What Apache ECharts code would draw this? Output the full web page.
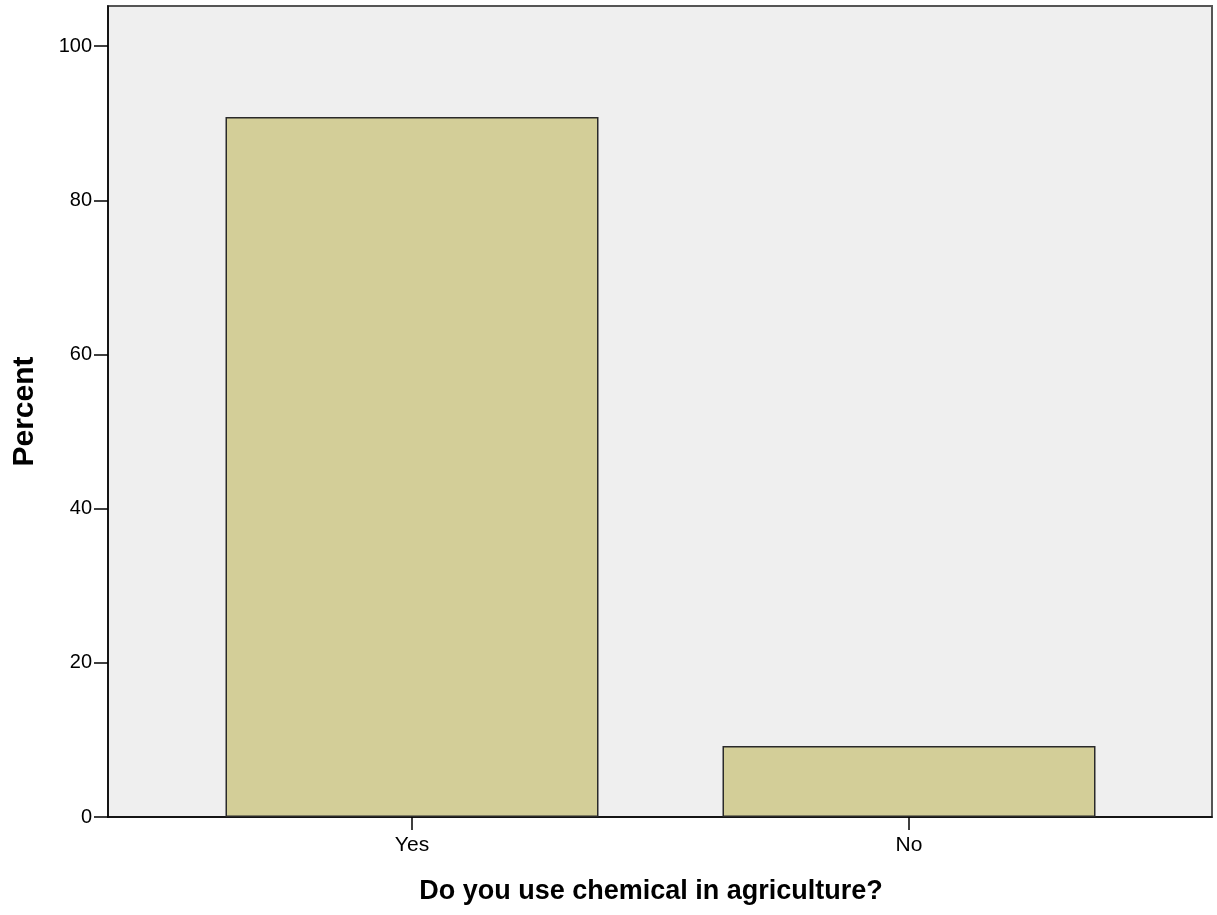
<!DOCTYPE html>
<html>
<head>
<meta charset="utf-8">
<script src="https://cdn.jsdelivr.net/npm/echarts@6/dist/echarts.min.js"></script>
<style>html,body{margin:0;padding:0;background:#fff}#c{width:1217px;height:915px}</style>
</head>
<body>
<div id="c"></div>
<script>
const categories = ['Yes', 'No'];
const percentValues = [90.8, 9.2];
const yTicks = [0, 20, 40, 60, 80, 100];

const chart = echarts.init(document.getElementById('c'), null, {renderer: 'canvas'});
const font = 'Liberation Sans, Arial, sans-serif';
chart.setOption({
  animation: false,
  backgroundColor: '#ffffff',
  grid: [
    {left: 108, right: 5, top: 6, bottom: 98, show: true, backgroundColor: '#efefef', borderColor: '#555555', borderWidth: 2},
    {left: 163.5, right: 59.5, top: 6, bottom: 98}
  ],
  title: {
    text: 'Do you use chemical in agriculture?',
    left: 646, top: 873, textAlign: 'center',
    textStyle: {fontFamily: font, fontSize: 27, fontWeight: 'bold', color: '#000'}
  },
  xAxis: [
    {gridIndex: 0, type: 'value', min: 0, max: 1, axisLabel: {show: false}, axisTick: {show: false}, splitLine: {show: false},
     axisLine: {show: true, onZero: false, lineStyle: {color: '#000', width: 1.5}}},
    {gridIndex: 1, type: 'category', data: categories, boundaryGap: true,
     axisLine: {show: false},
     axisTick: {show: true, alignWithLabel: true, length: 13, lineStyle: {color: '#000', width: 1.5}},
     axisLabel: {color: '#000', fontFamily: font, fontSize: 21, margin: 18}}
  ],
  yAxis: [
    {gridIndex: 0, type: 'value', min: 0, max: 105.2, interval: 20,
     name: 'Percent', nameLocation: 'middle', nameGap: 68, nameRotate: 90,
     nameTextStyle: {fontFamily: font, fontSize: 30, fontWeight: 'bold', color: '#000'},
     axisLine: {show: true, lineStyle: {color: '#000', width: 1.5}},
     axisTick: {show: true, length: 14, customValues: yTicks, lineStyle: {color: '#000', width: 1.5}},
     axisLabel: {color: '#000', fontFamily: font, fontSize: 20, margin: 16, customValues: yTicks},
     splitLine: {show: false}},
    {gridIndex: 1, type: 'value', min: 0, max: 105.2, show: false, splitLine: {show: false}}
  ],
  series: [{
    type: 'bar', xAxisIndex: 1, yAxisIndex: 1,
    data: percentValues, barWidth: 373,
    itemStyle: {color: '#d3ce98', borderColor: '#2a2a2a', borderWidth: 1.5}
  }]
});
</script>
</body>
</html>
